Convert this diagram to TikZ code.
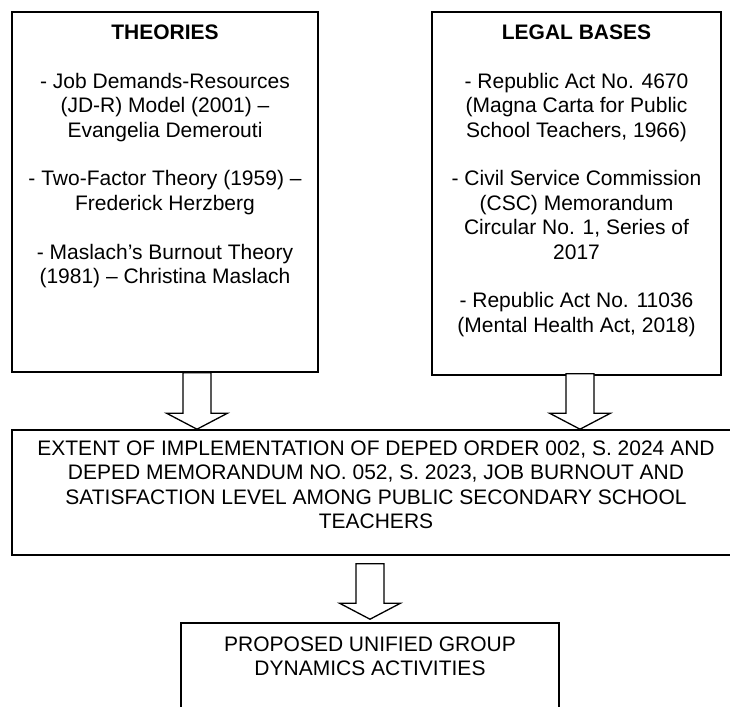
\documentclass[tikz,border=0pt]{standalone}
\usepackage{fontspec}
\setmainfont{Liberation Sans}
\usetikzlibrary{calc}
% #1 centre x, #2 source node, #3 target node, #4 gap below source, #5 gap above target
\newcommand{\hollowarrow}[5]{%
  \draw[blk] let \p1=(#2.south), \p2=(#3.north) in
    ({(#1-14)*1pt},{\y1-#4pt}) -- ({(#1-14)*1pt},{\y2+#5pt+16pt})
    -- ({(#1-30.5)*1pt},{\y2+#5pt+16pt}) -- ({#1*1pt},{\y2+#5pt})
    -- ({(#1+30.5)*1pt},{\y2+#5pt+16pt}) -- ({(#1+14)*1pt},{\y2+#5pt+16pt})
    -- ({(#1+14)*1pt},{\y1-#4pt}) -- cycle;}
\begin{document}
\begin{tikzpicture}[x=1pt,y=1pt,
  frame/.style={draw=black, line width=1.6pt, rectangle, inner sep=0pt},
  txt/.style={anchor=north, align=center, inner sep=0pt,
              font=\fontsize{21}{24.4}\selectfont},
  blk/.style={draw=black, line width=1.3pt, fill=white, line join=miter}]
\useasboundingbox (0,0) rectangle (730,-706);
\clip (0,0) rectangle (730,-706);
\fill[white] (0,0) rectangle (730,-706);

\node[frame, minimum width=306pt, minimum height=360pt] (theo) at (165,-192) {};
\node[frame, minimum width=289pt, minimum height=363pt] (legal) at (576.5,-193.5) {};
\node[frame, minimum width=728pt, minimum height=125pt] (ext) at (376,-492.5) {};
\node[frame, minimum width=378pt, minimum height=100pt] (prop) at (370,-673) {};

\node[txt, yshift=-12pt] (theotxt) at (theo.north) {\rule{0pt}{16pt}\textbf{THEORIES}\\[24.4pt]%
- Job Demands-Resources\\(JD-R) Model (2001) –\\Evangelia Demerouti\\[24.4pt]%
- Two-Factor Theory (1959) –\\Frederick Herzberg\\[24.4pt]%
- Maslach’s Burnout Theory\\(1981) – Christina Maslach};

\node[txt, yshift=-12pt] (legaltxt) at (legal.north) {\rule{0pt}{16pt}\textbf{LEGAL BASES}\\[24.4pt]%
- Republic Act No. 4670\\(Magna Carta for Public\\School Teachers, 1966)\\[24.4pt]%
- Civil Service Commission\\(CSC) Memorandum\\Circular No. 1, Series of\\2017\\[24.4pt]%
- Republic Act No. 11036\\(Mental Health Act, 2018)};

\node[txt, yshift=-10pt] (exttxt) at (ext.north) {\rule{0pt}{16pt}EXTENT OF IMPLEMENTATION OF DEPED ORDER 002, S. 2024 AND\\%
DEPED MEMORANDUM NO. 052, S. 2023, JOB BURNOUT AND\\%
SATISFACTION LEVEL AMONG PUBLIC SECONDARY SCHOOL\\TEACHERS};

\node[txt, yshift=-13pt] (proptxt) at (prop.north) {\rule{0pt}{16pt}PROPOSED UNIFIED GROUP\\DYNAMICS ACTIVITIES};

\hollowarrow{197}{theo}{ext}{0}{0}
\hollowarrow{580}{legal}{ext}{-2}{0}
\hollowarrow{370}{ext}{prop}{8}{3}
\end{tikzpicture}
\end{document}
